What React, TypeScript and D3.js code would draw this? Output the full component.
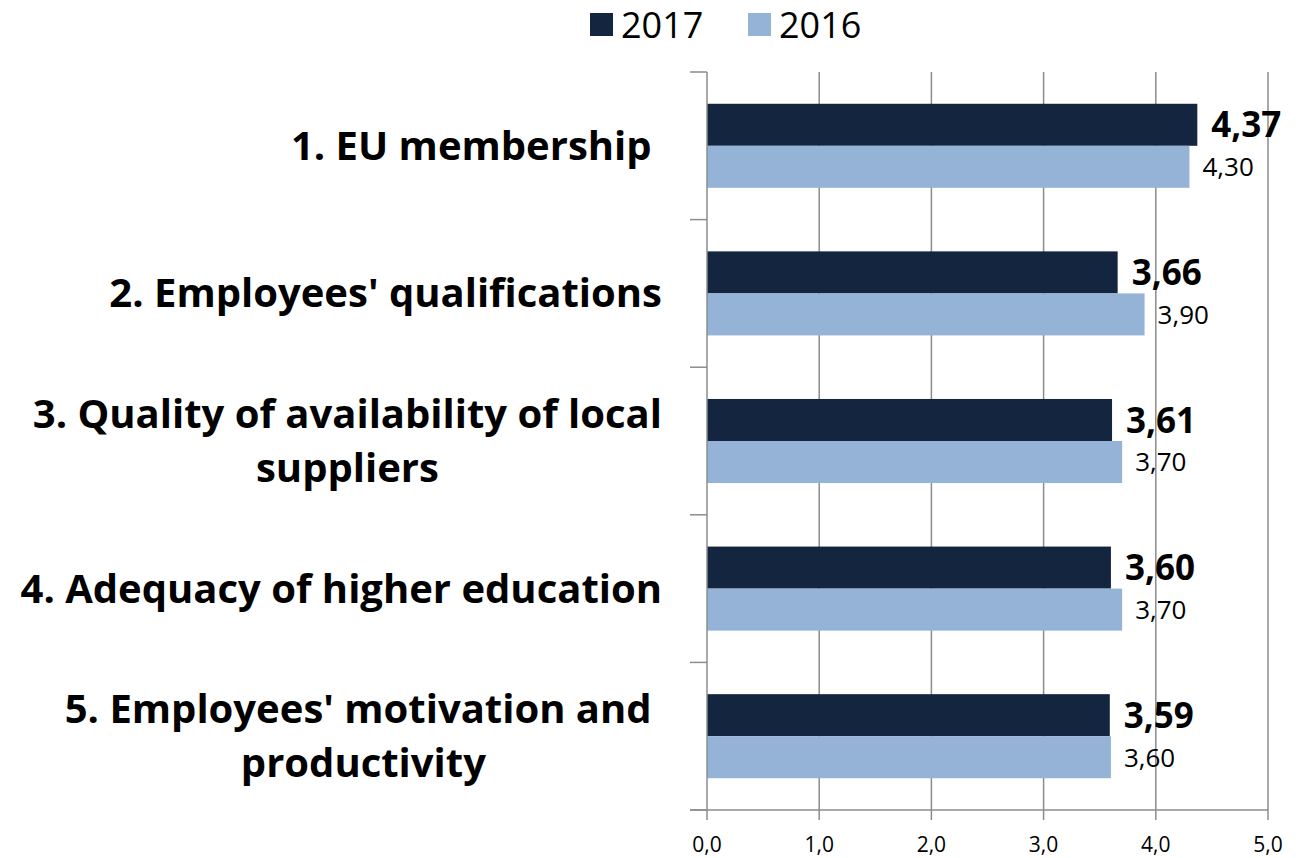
import React, { useEffect, useRef } from "react";
import * as d3 from "d3";

const categories = [
  ["1. EU membership\u00a0"],
  ["2. Employees' qualifications"],
  ["3. Quality of availability of local", "suppliers"],
  ["4. Adequacy of higher education"],
  ["5. Employees' motivation and\u00a0", "productivity"],
];
const seriesNames = ["2017", "2016"];
const values2017 = [4.37, 3.66, 3.61, 3.6, 3.59];
const values2016 = [4.3, 3.9, 3.7, 3.7, 3.6];
const xTicks = [0, 1, 2, 3, 4, 5];

const colors = { "2017": "#14253f", "2016": "#95b3d7" };
const font = "'Open Sans', 'DejaVu Sans', sans-serif";

const width = 1301;
const height = 858;
const left = 707;
const right = 1268;
const top = 72;
const bottom = 810;

const App = () => {
  const ref = useRef<SVGSVGElement>(null);

  useEffect(() => {
    const svg = d3.select(ref.current);
    svg.selectAll("*").remove();

    const x = d3.scaleLinear().domain([0, 5]).range([left, right]);
    const y = d3
      .scaleBand()
      .domain(categories.map((_, i) => String(i)))
      .range([top, bottom])
      .padding(0);
    const y1 = d3
      .scaleBand()
      .domain(seriesNames)
      .range([0, y.bandwidth()])
      .paddingInner(0)
      .paddingOuter(0.756);

    // grid lines
    svg
      .append("g")
      .selectAll("line")
      .data(xTicks.slice(1))
      .join("line")
      .attr("x1", (d) => x(d))
      .attr("x2", (d) => x(d))
      .attr("y1", top)
      .attr("y2", bottom + 10)
      .attr("stroke", "#8c8c8c")
      .attr("stroke-width", 1.5);

    // bars
    const rows = categories.map((c, i) => ({
      key: String(i),
      vals: [
        { s: "2017", v: values2017[i] },
        { s: "2016", v: values2016[i] },
      ],
    }));
    const g = svg
      .append("g")
      .selectAll("g")
      .data(rows)
      .join("g")
      .attr("transform", (d) => `translate(0,${y(d.key)})`);
    g.selectAll("rect")
      .data((d) => d.vals)
      .join("rect")
      .attr("x", x(0))
      .attr("y", (d) => y1(d.s)!)
      .attr("width", (d) => x(d.v) - x(0))
      .attr("height", y1.bandwidth())
      .attr("fill", (d) => colors[d.s]);
    g.selectAll("text")
      .data((d) => d.vals)
      .join("text")
      .attr("x", (d) => x(d.v) + (d.s === "2017" ? 14 : 13))
      .attr("y", (d) => y1(d.s)! + y1.bandwidth() / 2)
      .attr("dy", "0.36em")
      .attr("font-family", font)
      .attr("font-size", (d) => (d.s === "2017" ? 35 : 26))
      .attr("font-weight", (d) => (d.s === "2017" ? 700 : 400))
      .attr("fill", "#000")
      .text((d) => d.v.toFixed(2).replace(".", ","));

    // axes lines
    svg
      .append("line")
      .attr("x1", x(0))
      .attr("x2", x(0))
      .attr("y1", top)
      .attr("y2", bottom + 10)
      .attr("stroke", "#8c8c8c")
      .attr("stroke-width", 1.5);
    svg
      .append("line")
      .attr("x1", x(0) - 17)
      .attr("x2", right)
      .attr("y1", bottom)
      .attr("y2", bottom)
      .attr("stroke", "#8c8c8c")
      .attr("stroke-width", 1.5);
    svg
      .append("g")
      .selectAll("line")
      .data(d3.range(categories.length + 1))
      .join("line")
      .attr("x1", x(0) - 17)
      .attr("x2", x(0))
      .attr("y1", (i) => top + i * y.step())
      .attr("y2", (i) => top + i * y.step())
      .attr("stroke", "#8c8c8c")
      .attr("stroke-width", 1.5);

    // x tick labels
    svg
      .append("g")
      .selectAll("text")
      .data(xTicks)
      .join("text")
      .attr("x", (d) => x(d))
      .attr("y", 852)
      .attr("text-anchor", "middle")
      .attr("font-family", font)
      .attr("font-size", 21)
      .text((d) => d.toFixed(1).replace(".", ","));

    // category labels, multi-line centred, block right edge at 662
    const labelRight = 662;
    const lineGap = 54;
    categories.forEach((lines, i) => {
      const cy = y(String(i))! + y.bandwidth() / 2;
      const t = svg
        .append("text")
        .attr("font-family", font)
        .attr("font-size", 40)
        .attr("font-weight", 700)
        .attr("text-anchor", "middle");
      const spans = t
        .selectAll("tspan")
        .data(lines)
        .join("tspan")
        .attr("y", (_, j) => cy + 14 + (j - (lines.length - 1) / 2) * lineGap)
        .text((d) => d);
      let maxW = 0;
      spans.each(function () {
        maxW = Math.max(maxW, (this as SVGTSpanElement).getComputedTextLength());
      });
      spans.attr("x", labelRight - maxW / 2);
    });

    // legend
    const legendItems = [
      { s: "2017", x: 590 },
      { s: "2016", x: 748 },
    ];
    const lg = svg
      .append("g")
      .selectAll("g")
      .data(legendItems)
      .join("g")
      .attr("transform", (d) => `translate(${d.x},13)`);
    lg.append("rect")
      .attr("width", 23)
      .attr("height", 23)
      .attr("fill", (d) => colors[d.s]);
    lg.append("text")
      .attr("x", 31)
      .attr("y", 25)
      .attr("font-family", font)
      .attr("font-size", 36)
      .text((d) => d.s);
  }, []);

  return (
    <svg
      ref={ref}
      width={width}
      height={height}
      style={{ position: "absolute", left: 0, top: 0, background: "#fff" }}
    />
  );
};

export default App;
